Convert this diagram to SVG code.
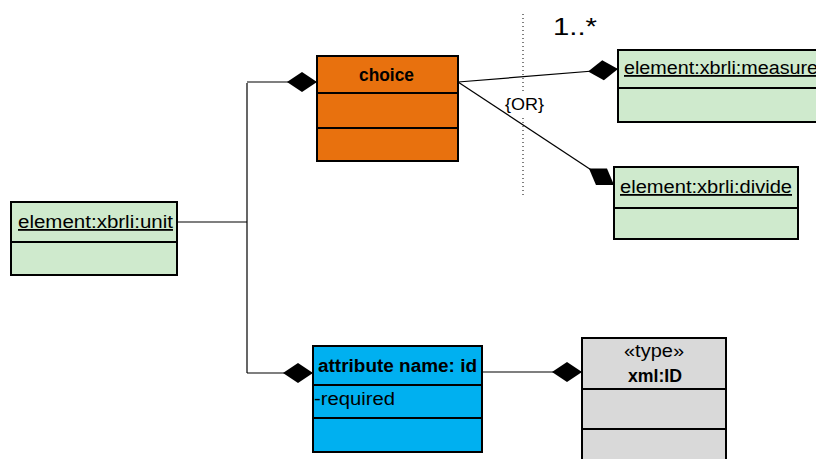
<svg xmlns="http://www.w3.org/2000/svg" width="816" height="459" viewBox="0 0 816 459">
<defs>
<style>
.box{stroke:#000;stroke-width:2}
.div{stroke:#000;stroke-width:2}
.green{fill:#CFEACD}
.orange{fill:#E8710E}
.blue{fill:#00B0F0}
.gray{fill:#D9D9D9}
.t{font-family:"Liberation Sans",Arial,sans-serif;font-size:18px;fill:#000}
.b{font-weight:bold}
.u{text-decoration:underline}
.con{stroke:#000;stroke-width:1.2;fill:none}
</style>
<marker id="dia" viewBox="0 0 32 22" refX="31" refY="11" markerWidth="32" markerHeight="22" markerUnits="userSpaceOnUse" orient="auto">
<path d="M1,11 L16,1 L31,11 L16,21 Z" fill="#000"/>
</marker>
</defs>
<g id="connectors">
<path class="con" d="M177,222 H247"/>
<path class="con" d="M247,373 V83"/>
<path class="con" d="M247,82 H317" marker-end="url(#dia)"/>
<path class="con" d="M247,373 H313" marker-end="url(#dia)"/>
<path class="con" d="M482,372 H582" marker-end="url(#dia)"/>
<path class="con" d="M458,82 L618,69" marker-end="url(#dia)"/>
<path class="con" d="M458,82 L614,185" marker-end="url(#dia)"/>
<path d="M523,14 V92 M523,118 V195" stroke="#000" stroke-width="1" stroke-dasharray="1,3"/>
<text class="t" x="553" y="35" style="font-size:23px" textLength="44" lengthAdjust="spacingAndGlyphs">1..*</text>
<text class="t" x="505" y="110" style="font-size:16px" textLength="39" lengthAdjust="spacingAndGlyphs">{OR}</text>
</g>
<g id="unit">
<rect class="box green" x="11" y="202" width="166" height="73"/>
<line class="div" x1="11" y1="242" x2="177" y2="242"/>
<text class="t u" x="18" y="228" textLength="155" lengthAdjust="spacingAndGlyphs">element:xbrli:unit</text>
</g>
<g id="choice">
<rect class="box orange" x="317" y="56" width="141" height="105"/>
<line class="div" x1="317" y1="93" x2="458" y2="93"/>
<line class="div" x1="317" y1="128" x2="458" y2="128"/>
<text class="t b" x="359" y="81" textLength="55" lengthAdjust="spacingAndGlyphs">choice</text>
</g>
<g id="measure">
<rect class="box green" x="618" y="50" width="210" height="72"/>
<line class="div" x1="618" y1="88" x2="828" y2="88"/>
<text class="t u" x="624" y="74" textLength="194" lengthAdjust="spacingAndGlyphs">element:xbrli:measure</text>
</g>
<g id="divide">
<rect class="box green" x="614" y="167" width="184" height="72"/>
<line class="div" x1="614" y1="208" x2="798" y2="208"/>
<text class="t u" x="620" y="193" textLength="172" lengthAdjust="spacingAndGlyphs">element:xbrli:divide</text>
</g>
<g id="attribute">
<rect class="box blue" x="313" y="346" width="169" height="106"/>
<line class="div" x1="313" y1="385" x2="482" y2="385"/>
<line class="div" x1="313" y1="418" x2="482" y2="418"/>
<text class="t b" x="318" y="372" textLength="159" lengthAdjust="spacingAndGlyphs">attribute name: id</text>
<text class="t" x="314" y="405" textLength="81" lengthAdjust="spacingAndGlyphs">-required</text>
</g>
<g id="xmlid">
<rect class="box gray" x="582" y="338" width="144" height="130"/>
<line class="div" x1="582" y1="389" x2="726" y2="389"/>
<line class="div" x1="582" y1="429" x2="726" y2="429"/>
<text class="t" x="624" y="357" textLength="60" lengthAdjust="spacingAndGlyphs">«type»</text>
<text class="t b" x="628" y="382" textLength="54" lengthAdjust="spacingAndGlyphs">xml:ID</text>
</g>
</svg>
